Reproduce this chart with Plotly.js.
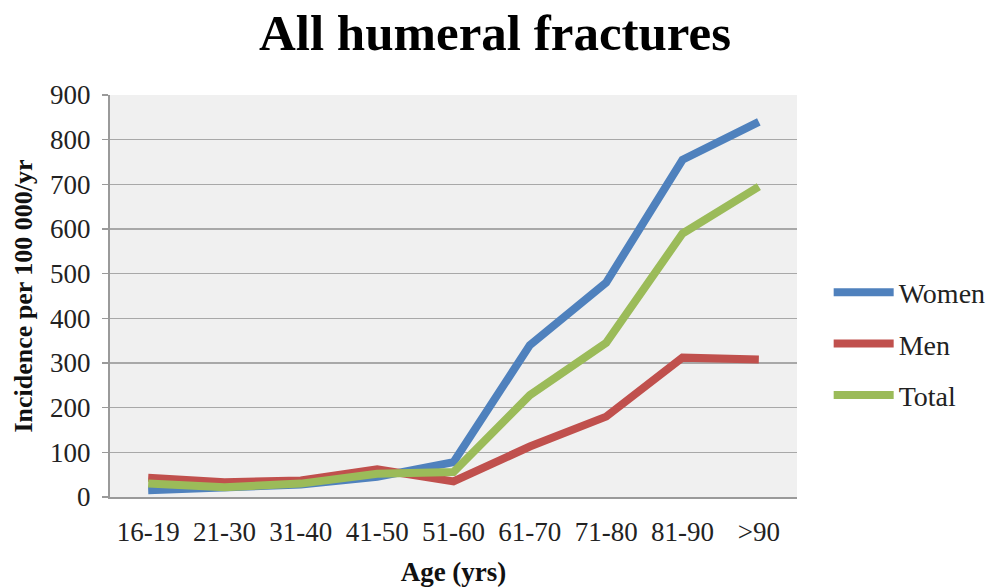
<!DOCTYPE html>
<html>
<head>
<meta charset="utf-8">
<script src="https://cdn.plot.ly/plotly-3.0.1.min.js"></script>
<style>html,body{margin:0;padding:0;background:#fff;}#chart{width:996px;height:588px;}</style>
</head>
<body>
<div id="chart"></div>
<script>
const categories = ["16-19","21-30","31-40","41-50","51-60","61-70","71-80","81-90",">90"];
const women = [15, 20, 28, 45, 78, 340, 480, 755, 840];
const men   = [43, 33, 37, 62, 35, 113, 180, 312, 308];
const total = [30, 22, 30, 52, 56, 228, 345, 590, 695];
const seriesNames = ["Women", "Men", "Total"];
const colors = ["#4f81bd", "#c0504d", "#9bbb59"];
const yTicks = [0,100,200,300,400,500,600,700,800,900];

const FONT = "Liberation Serif, Times New Roman, serif";
const data = [women, men, total].map((vals, i) => ({
  type: "scatter",
  mode: "lines",
  x: categories,
  y: vals,
  name: seriesNames[i],
  legendgroup: "g" + i,
  line: {color: colors[i], width: 8}
}));

const layout = {
  width: 996, height: 588,
  margin: {l: 110, r: 199, t: 95, b: 91},
  paper_bgcolor: "#ffffff",
  plot_bgcolor: "#f0f0f0",
  font: {family: FONT, color: "#222", size: 27},
  title: {text: "<b>All humeral fractures</b>", x: 0.497, xref: "container", xanchor: "center", y: 0.945, yanchor: "middle", font: {family: FONT, size: 51, color: "#000"}},
  xaxis: {
    type: "category",
    range: [-0.5, 8.5],
    showgrid: false,
    showline: true, linecolor: "#9a9a9a", linewidth: 2,
    ticks: "", ticklabelstandoff: 10,
    tickfont: {family: FONT, size: 27, color: "#222"},
    title: {text: "<b>Age (yrs)</b>", font: {family: FONT, size: 27, color: "#111"}, standoff: 16},
    zeroline: false
  },
  yaxis: {
    range: [0, 900],
    tickvals: yTicks,
    showgrid: true, gridcolor: "#a8a8a8", gridwidth: 1.5,
    showline: true, linecolor: "#9a9a9a", linewidth: 2,
    ticks: "outside", ticklen: 6, tickcolor: "#9a9a9a", tickwidth: 1.5,
    ticklabelstandoff: 6,
    tickfont: {family: FONT, size: 27, color: "#222"},
    title: {text: "<b>Incidence per 100 000/yr</b>", font: {family: FONT, size: 26, color: "#111"}, standoff: 10},
    zeroline: false
  },
  showlegend: true,
  legend: {
    xref: "container", yref: "container",
    x: 0.832, xanchor: "left", y: (588 - 344) / 588, yanchor: "middle",
    font: {family: FONT, size: 28, color: "#222"},
    tracegroupgap: 12,
    itemwidth: 60,
    bgcolor: "rgba(0,0,0,0)"
  }
};

Plotly.newPlot("chart", data, layout, {displayModeBar: false, staticPlot: true});
</script>
</body>
</html>
